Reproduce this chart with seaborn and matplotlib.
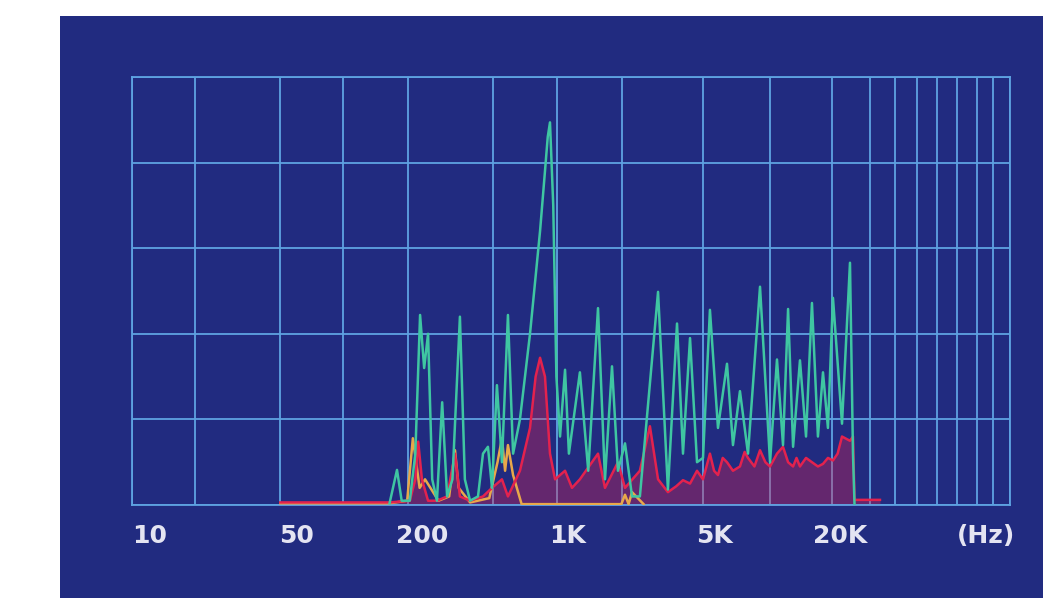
import matplotlib
matplotlib.use("Agg")
import matplotlib.pyplot as plt
from matplotlib.patches import Rectangle
from matplotlib.ticker import FixedLocator, NullFormatter
import seaborn as sns
import pandas as pd

# Frequenze (Hz) e livelli (divisioni verticali, 0-5)
teal_freq = [140, 152, 160, 175, 186, 196, 205, 214, 224, 236, 250, 264, 280, 304, 321, 340,
             371, 392, 414, 433, 457, 483, 516, 546, 589, 658, 735, 776, 800, 820, 850, 880,
             916, 968, 1010, 1140, 1250, 1392, 1503, 1624, 1734, 1874, 2025, 2208, 2697, 3007,
             3324, 3550, 3836, 4143, 4426, 4777, 5220, 5765, 6157, 6649, 7266, 8295, 9264,
             10000, 10686, 11300, 11940, 12880, 13770, 14700, 15700, 16600, 17530, 18530,
             20470, 22350, 23100, 23500]
teal_level = [0.02, 0.41, 0.05, 0.05, 0.6, 2.22, 1.6, 2.0, 0.3, 0.05, 1.2, 0.1, 0.3, 2.2, 0.3, 0.05,
              0.1, 0.6, 0.68, 0.2, 1.4, 0.5, 2.22, 0.6, 1.0, 2.0, 3.2, 3.9, 4.3, 4.47, 3.5, 1.5,
              0.8, 1.58, 0.6, 1.55, 0.4, 2.30, 0.3, 1.62, 0.4, 0.72, 0.1, 0.1, 2.49, 0.18,
              2.12, 0.6, 1.95, 0.5, 0.55, 2.28, 0.9, 1.65, 0.7, 1.33, 0.6, 2.55, 0.5,
              1.7, 0.7, 2.29, 0.68, 1.69, 0.8, 2.36, 0.8, 1.55, 0.9, 2.42,
              0.95, 2.83, 0.6, 0.0]

red_freq = [42, 140, 175, 186, 192, 200, 214, 236, 264, 288, 304, 340, 392, 433, 483, 516,
            589, 658, 700, 735, 776, 820, 867, 968, 1045, 1140, 1392, 1503, 1734, 1874, 2208,
            2466, 2697, 3007, 3300, 3550, 3836, 4143, 4426, 4777, 5000, 5220, 5500, 5765, 6157,
            6649, 7000, 7266, 7800, 8295, 8800, 9264, 10000, 10686, 11300, 11940, 12400, 12880,
            13770, 14700, 15700, 16600, 17530, 18530, 19500, 20470, 22350, 23100, 23500, 31100]
red_level = [0.03, 0.03, 0.05, 0.3, 0.74, 0.3, 0.05, 0.05, 0.1, 0.6, 0.1, 0.05, 0.1, 0.2, 0.3, 0.1,
             0.4, 0.9, 1.5, 1.72, 1.5, 0.6, 0.3, 0.4, 0.2, 0.3, 0.6, 0.2, 0.5, 0.2, 0.4,
             0.92, 0.3, 0.15, 0.22, 0.29, 0.25, 0.4, 0.3, 0.6, 0.4, 0.35, 0.55, 0.5, 0.4,
             0.45, 0.62, 0.55, 0.45, 0.64, 0.5, 0.45, 0.6, 0.68, 0.5, 0.45, 0.55, 0.45,
             0.55, 0.5, 0.45, 0.48, 0.55, 0.52, 0.6, 0.8, 0.75, 0.8, 0.06, 0.06]

yellow_freq = [42, 140, 170, 181, 195, 207, 240, 270, 288, 300, 340, 420, 460, 483, 500, 516,
               546, 600, 1800, 1874, 1950, 2025, 2300]
yellow_level = [0.02, 0.02, 0.05, 0.78, 0.2, 0.3, 0.05, 0.1, 0.64, 0.2, 0.03, 0.08, 0.5, 0.78, 0.4, 0.7,
                0.35, 0.01, 0.01, 0.12, 0.01, 0.15, 0.01]

# Righe verticali della griglia dello strumento (Hz)
grid_freq = [8.2, 16.4, 41.9, 83.8, 171, 438, 885, 1811, 4424, 9266, 18340, 27860,
             36720, 46770, 58300, 72600, 90600, 108000, 130300]
tick_freq = [10, 50, 200, 1000, 5000, 20000, 100000]
tick_labels = ["10", "50", "200", "1K", "5K", "20K", "(Hz)"]

df = pd.concat([
    pd.DataFrame({"freq": yellow_freq, "level": yellow_level, "serie": "giallo"}),
    pd.DataFrame({"freq": red_freq, "level": red_level, "serie": "rosso"}),
    pd.DataFrame({"freq": teal_freq, "level": teal_level, "serie": "verde"}),
])

panel = "#212b80"
grid_col = "#5ea3e2"
colori = {"verde": "#3fc6a2", "rosso": "#e3224e", "giallo": "#e8a84a"}

fig = plt.figure(figsize=(10.59, 5.98), dpi=100, facecolor="white")
fig.patches.append(Rectangle((60 / 1059, 0), 983 / 1059, 582 / 598, transform=fig.transFigure,
                             facecolor=panel, edgecolor="none", zorder=-5))
ax = fig.add_axes([132 / 1059, 1 - 505 / 598, 878 / 1059, 428 / 598], zorder=2)
ax.set_facecolor(panel)
ax.set_xscale("log")

# area rossa semi-trasparente sotto la traccia
ax.fill_between(red_freq, red_level, 0, color=colori["rosso"], alpha=0.35, lw=0, zorder=2)

sns.lineplot(data=df, x="freq", y="level", hue="serie", palette=colori, estimator=None,
             sort=False, linewidth=1.8, legend=False, ax=ax, zorder=3)

ax.set_xlim(8.2, 130300)
ax.set_ylim(0, 5)

ax.xaxis.set_minor_locator(FixedLocator(grid_freq))
ax.xaxis.set_minor_formatter(NullFormatter())
ax.set_xticks(tick_freq)
ax.set_xticklabels(tick_labels)
ax.set_yticks(range(6))
ax.set_yticklabels([])
ax.tick_params(which="both", length=0)
ax.tick_params(axis="x", colors="#e4e4f2", labelsize=18, pad=14)
for lab in ax.get_xticklabels():
    lab.set_fontweight("bold")

ax.grid(which="minor", axis="x", color=grid_col, linewidth=1.3)
ax.grid(which="major", axis="y", color=grid_col, linewidth=1.3)
ax.grid(which="major", axis="x", visible=False)
for s in ax.spines.values():
    s.set_color(grid_col)
    s.set_linewidth(1.3)
ax.set_xlabel("")
ax.set_ylabel("")

plt.savefig("out.png", dpi=100, facecolor="white")
